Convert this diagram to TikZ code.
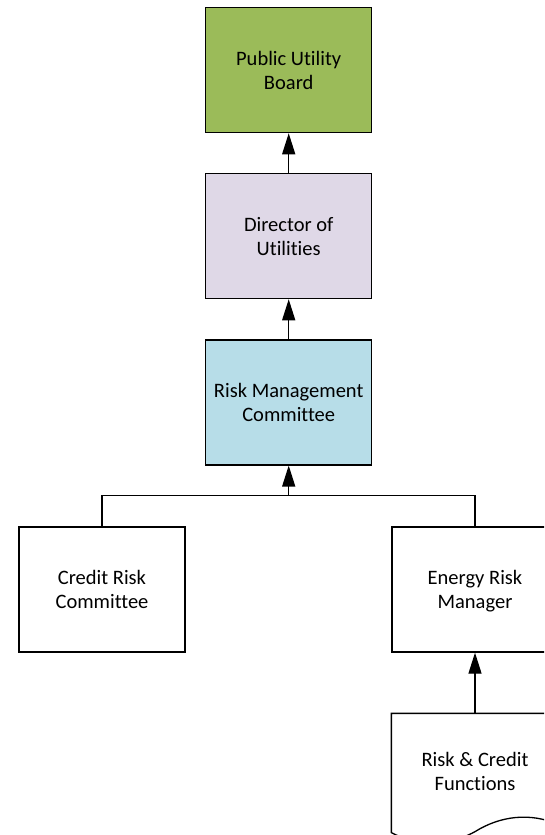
\documentclass[tikz,border=0pt]{standalone}
\usepackage{fontspec}
\setmainfont{Carlito}[Ligatures=NoCommon]
\usetikzlibrary{arrows.meta}

\definecolor{boardgreen}{HTML}{9BBB59}
\definecolor{dirlavender}{HTML}{DFD8E7}
\definecolor{riskblue}{HTML}{B7DDE8}

\newcommand{\labeltext}{\fontsize{20.5}{24}\selectfont}
% fixed height of first line and depth of last line, so two-line labels sit alike
\newcommand{\hstrut}{\rule{0pt}{18.3pt}}
\newcommand{\dstrut}{\rule[-4.5pt]{0pt}{4.5pt}}
\newcommand{\twolines}[2]{\hstrut#1\\#2\dstrut}

\tikzset{
  unitbox/.style={draw=black, line width=1.3pt, rectangle,
    minimum width=166pt, minimum height=125pt, align=center,
    font=\labeltext, inner sep=0pt},
  link/.style={draw=black, line width=1.3pt},
  uparrow/.style={link, -{Triangle[width=13pt,length=21pt]}}
}

\begin{document}
\begin{tikzpicture}[x=1pt, y=-1pt]
  \useasboundingbox (0,0) rectangle (544,835);
  \clip (0,0) rectangle (544,835);

  % governance chain
  \node[unitbox, fill=boardgreen]  (pub) at (288.7,70.1)  {\twolines{Public Utility}{Board}};
  \node[unitbox, fill=dirlavender] (dir) at (288.7,236.1) {\twolines{Director of}{Utilities}};
  \node[unitbox, fill=riskblue]    (rmc) at (288.7,402.4) {\twolines{Risk Management}{Committee}};

  % reporting units
  \node[unitbox, fill=white] (crc) at (102,589.5) {\twolines{Credit Risk}{Committee}};
  \node[unitbox, fill=white] (erm) at (475,589.5) {\twolines{Energy Risk}{Manager}};

  % document shape with wavy bottom (yshift is in page units: positive = up)
  \node[unitbox, draw=none, minimum height=118pt] (doc) at (475,773) {};
  \draw[link, line join=miter, fill=white]
    (doc.south west) -- (doc.north west) -- (doc.north east) -- ([yshift=8pt]doc.south east)
    .. controls (530,812) and (500,816) .. ([yshift=1pt]doc.south)
    .. controls (445,848) and (415,845) .. (doc.south west) -- cycle;
  \node[align=center, font=\labeltext, inner sep=0pt] (doctext) at ([yshift=1pt]doc.center) {\twolines{Risk \& Credit}{Functions}};

  % connectors
  \coordinate (j) at (288.7,495.7);
  \draw[link] (crc.north) |- (j) -| (erm.north);
  \draw[uparrow] (j) -- (rmc.south);
  \draw[uparrow] (rmc.north) -- (dir.south);
  \draw[uparrow] (dir.north) -- (pub.south);
  \draw[uparrow] (doc.north) -- (erm.south);
\end{tikzpicture}
\end{document}
